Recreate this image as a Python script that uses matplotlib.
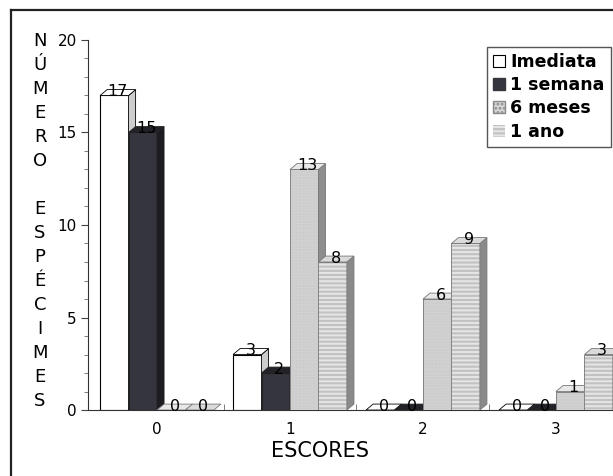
import matplotlib
matplotlib.use("Agg")
import matplotlib.pyplot as plt
import numpy as np
from matplotlib.lines import Line2D
from matplotlib.patches import Patch, Polygon

# values
escores = [0, 1, 2, 3]
series_names = ["Imediata", "1 semana", "6 meses", "1 ano"]
imediata = [17, 3, 0, 0]
uma_semana = [15, 2, 0, 0]
seis_meses = [0, 13, 6, 1]
um_ano = [0, 8, 9, 3]
y_label_text = "NÚMERO ESPÉCIMES"

FRONT = ["#ffffff", "#35353d", "#d8d8d8", "#c2c2c2"]
SIDE = ["#cdcdcd", "#1c1c22", "#8e8e8e", "#8a8a8a"]
TOP = ["#ffffff", "#222228", "#e8e8e8", "#dadada"]
EDGE = ["#000000", "#222222", "#777777", "#777777"]
HATCH = [None, None, "......", "----"]
HATCH_COLOR = [None, None, "#c6c6c6", "#e6e6e6"]

W_PX, H_PX = 613, 476
plt.rcParams["hatch.linewidth"] = 1.4

fig = plt.figure(figsize=(W_PX / 100, H_PX / 100), dpi=100)
ax = fig.add_axes([88 / W_PX, 66 / H_PX, 525 / W_PX, 370 / H_PX])

width = 0.214
dx, dy = 0.053, 0.32
offsets = (np.arange(4) - 1.5) * width
cats = np.array(escores, dtype=float)

for i, values in enumerate([imediata, uma_semana, seis_meses, um_ano]):
    z = 2 + i * 3
    xs = cats + offsets[i]
    if HATCH[i]:
        bars = ax.bar(xs, values, width, facecolor=FRONT[i], edgecolor=HATCH_COLOR[i],
                      hatch=HATCH[i], linewidth=0, zorder=z)
        ax.bar(xs, values, width, fill=False, edgecolor=EDGE[i], linewidth=0.6, zorder=z)
    else:
        bars = ax.bar(xs, values, width, facecolor=FRONT[i], edgecolor=EDGE[i],
                      linewidth=0.8, zorder=z)
    for rect, v in zip(bars, values):
        x0 = rect.get_x()
        x1 = x0 + rect.get_width()
        if v > 0:
            side = Polygon([(x1, 0), (x1 + dx, dy), (x1 + dx, v + dy), (x1, v)],
                           closed=True, facecolor=SIDE[i], edgecolor=EDGE[i], lw=0.6, zorder=z + 1)
            ax.add_patch(side)
        top = Polygon([(x0, v), (x1, v), (x1 + dx, v + dy), (x0 + dx, v + dy)],
                      closed=True, facecolor=TOP[i], edgecolor=EDGE[i], lw=0.6, zorder=z + 1)
        ax.add_patch(top)
        ax.text((x0 + x1) / 2 + dx / 2, v + dy / 2 + 0.05, str(v), ha="center", va="center",
                fontsize=11.5, color="black", zorder=30)

ax.set_xlim(-0.519, 3.429)
ax.set_ylim(0, 20)
ax.spines["top"].set_visible(False)
ax.spines["right"].set_visible(False)
ax.spines["left"].set_linewidth(0.8)
ax.spines["bottom"].set_linewidth(0.8)
ax.spines["left"].set_color("#333333")
ax.spines["bottom"].set_color("#333333")

ax.set_yticks([0, 5, 10, 15, 20])
ax.set_yticks(np.arange(0, 21, 1), minor=True)
ax.tick_params(axis="y", which="major", length=5, width=0.8, labelsize=11, pad=3, color="#444444")
ax.tick_params(axis="y", which="minor", length=3, width=0.6, color="#666666")
ax.set_xticks(escores)
ax.set_xticklabels([str(c) for c in escores])
ax.set_xticks(cats[:-1] + 0.5, minor=True)
ax.tick_params(axis="x", which="major", length=0, labelsize=11, pad=9)
ax.tick_params(axis="x", which="minor", length=4, width=0.6, direction="in", color="#666666")

ax.set_xlabel("ESCORES", fontsize=15, va="center")
ax.xaxis.set_label_coords((320 - 88) / 525, (410 - 451) / 370)

# stacked y-axis title, one letter per line
for k, ch in enumerate(y_label_text):
    if ch == " ":
        continue
    yc = 40 + 24 * k
    fig.text(40 / W_PX, 1 - (yc + 6.5) / H_PX, ch, ha="center", va="baseline", fontsize=13)

handles = [
    Patch(facecolor=FRONT[0], edgecolor="black", linewidth=0.8),
    Patch(facecolor=FRONT[1], edgecolor=FRONT[1]),
    Patch(facecolor=FRONT[2], edgecolor="#8a8a8a", hatch="...."),
    Patch(facecolor=FRONT[3], edgecolor="#e6e6e6", hatch="----", linewidth=0),
]
leg = fig.legend(handles, series_names, loc="upper left", bbox_to_anchor=(487 / W_PX, 1 - 47 / H_PX),
                 borderaxespad=0, fancybox=False, framealpha=1, edgecolor="#555555",
                 prop={"weight": "bold", "size": 12.5}, handlelength=0.7, handleheight=0.7,
                 handletextpad=0.3, labelspacing=0.3, borderpad=0.35)
leg.get_frame().set_linewidth(1.0)

# scanned page frame (left and top edges visible)
fig.add_artist(Line2D([11 / W_PX, 11 / W_PX], [0, 1 - 10 / H_PX], color="#222222", lw=1.6,
                      transform=fig.transFigure))
fig.add_artist(Line2D([11 / W_PX, 1], [1 - 10 / H_PX, 1 - 10 / H_PX], color="#222222", lw=1.6,
                      transform=fig.transFigure))

fig.savefig("out.png", dpi=100)
